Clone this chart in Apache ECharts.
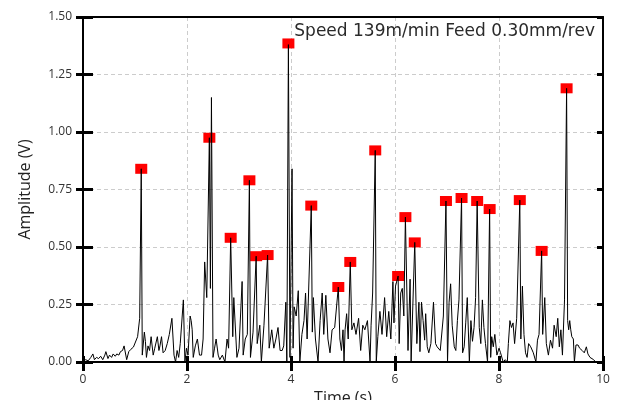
<!DOCTYPE html>
<html>
<head>
<meta charset="utf-8">
<script src="https://cdn.jsdelivr.net/npm/echarts@6/dist/echarts.min.js"></script>
<style>html,body{margin:0;padding:0;background:#fff;}#c{width:622px;height:400px;}</style>
</head>
<body>
<div id="c"></div>
<script>
// Signal samples: [time (s), amplitude (V)]
var signal = [
[0.00,0.005],[0.05,0.01],[0.10,0.005],[0.15,0.02],[0.19,0.035],[0.22,0.01],[0.26,0.02],[0.30,0.015],[0.34,0.025],[0.38,0.01],
[0.42,0.03],[0.44,0.045],[0.48,0.015],[0.51,0.03],[0.55,0.02],[0.58,0.035],[0.62,0.025],[0.65,0.035],[0.69,0.03],[0.72,0.045],
[0.76,0.05],[0.79,0.07],[0.84,0.01],[0.88,0.045],[0.92,0.055],[0.97,0.065],[1.00,0.06],[1.05,0.11],[1.09,0.19],[1.12,0.84],
[1.14,0.03],[1.18,0.13],[1.20,0.09],[1.22,0.02],[1.25,0.07],[1.28,0.05],[1.31,0.11],[1.35,0.03],[1.38,0.06],[1.43,0.11],
[1.46,0.05],[1.48,0.07],[1.51,0.11],[1.54,0.04],[1.58,0.05],[1.62,0.08],[1.66,0.12],[1.71,0.19],[1.75,0.03],[1.78,0.0],
[1.81,0.05],[1.84,0.02],[1.87,0.08],[1.93,0.27],[1.96,0.0],[1.99,0.06],[2.02,0.03],[2.06,0.2],[2.08,0.18],[2.10,0.14],
[2.12,0.02],[2.16,0.07],[2.20,0.1],[2.24,0.03],[2.28,0.03],[2.31,0.1],[2.34,0.435],[2.38,0.28],[2.43,0.975],[2.45,0.32],
[2.47,1.15],[2.50,0.02],[2.53,0.06],[2.56,0.1],[2.60,0.03],[2.63,0.01],[2.68,0.03],[2.73,0.0],[2.77,0.1],[2.80,0.06],
[2.84,0.54],[2.88,0.11],[2.90,0.28],[2.96,0.02],[3.00,0.06],[3.06,0.35],[3.08,0.03],[3.12,0.1],[3.16,0.12],[3.20,0.79],
[3.22,0.02],[3.27,0.13],[3.33,0.46],[3.35,0.08],[3.40,0.16],[3.43,0.0],[3.48,0.16],[3.55,0.465],[3.58,0.06],[3.63,0.14],
[3.67,0.06],[3.71,0.1],[3.75,0.15],[3.79,0.05],[3.83,0.05],[3.86,0.07],[3.90,0.26],[3.92,0.0],[3.95,1.38],[3.98,0.02],
[4.02,0.84],[4.04,0.06],[4.06,0.24],[4.10,0.2],[4.14,0.31],[4.17,0.0],[4.21,0.12],[4.25,0.18],[4.28,0.3],[4.31,0.1],
[4.39,0.68],[4.41,0.13],[4.43,0.28],[4.47,0.1],[4.52,0.0],[4.56,0.18],[4.60,0.3],[4.63,0.12],[4.67,0.29],[4.71,0.1],
[4.75,0.04],[4.79,0.14],[4.84,0.15],[4.91,0.326],[4.94,0.1],[4.97,0.05],[5.00,0.14],[5.02,0.0],[5.04,0.14],[5.07,0.21],
[5.10,0.1],[5.14,0.435],[5.17,0.14],[5.21,0.17],[5.25,0.12],[5.30,0.19],[5.34,0.05],[5.38,0.16],[5.42,0.14],[5.47,0.18],
[5.52,0.0],[5.54,0.16],[5.57,0.3],[5.62,0.92],[5.64,0.0],[5.67,0.11],[5.71,0.22],[5.75,0.12],[5.80,0.28],[5.84,0.11],
[5.88,0.22],[5.92,0.1],[5.96,0.35],[5.98,0.17],[6.01,0.33],[6.06,0.374],[6.08,0.08],[6.11,0.3],[6.14,0.32],[6.17,0.2],
[6.20,0.63],[6.25,0.05],[6.29,0.36],[6.31,0.0],[6.38,0.52],[6.42,0.08],[6.46,0.26],[6.48,0.045],[6.51,0.26],[6.54,0.18],
[6.57,0.095],[6.59,0.21],[6.62,0.066],[6.65,0.04],[6.69,0.08],[6.74,0.26],[6.78,0.08],[6.81,0.066],[6.84,0.06],[6.87,0.05],
[6.93,0.2],[6.98,0.7],[7.01,0.0],[7.04,0.26],[7.07,0.34],[7.10,0.16],[7.14,0.066],[7.17,0.05],[7.20,0.18],[7.23,0.27],
[7.28,0.713],[7.30,0.04],[7.33,0.066],[7.36,0.17],[7.39,0.28],[7.43,0.0],[7.46,0.18],[7.49,0.09],[7.52,0.15],[7.55,0.28],
[7.58,0.7],[7.62,0.15],[7.65,0.08],[7.68,0.27],[7.71,0.15],[7.74,0.08],[7.78,0.0],[7.82,0.665],[7.84,0.02],[7.86,0.11],
[7.89,0.066],[7.92,0.12],[7.96,0.03],[8.00,0.06],[8.03,0.04],[8.08,0.0],[8.12,0.01],[8.16,0.0],[8.18,0.08],[8.21,0.18],
[8.24,0.15],[8.27,0.17],[8.30,0.08],[8.34,0.19],[8.40,0.704],[8.42,0.1],[8.45,0.33],[8.48,0.12],[8.51,0.04],[8.54,0.02],
[8.57,0.08],[8.61,0.066],[8.66,0.04],[8.71,0.0],[8.74,0.095],[8.77,0.12],[8.82,0.483],[8.84,0.12],[8.88,0.28],[8.91,0.08],
[8.95,0.03],[8.99,0.095],[9.03,0.06],[9.06,0.16],[9.10,0.11],[9.13,0.19],[9.16,0.066],[9.19,0.14],[9.22,0.03],[9.26,0.27],
[9.30,1.19],[9.32,0.18],[9.34,0.14],[9.36,0.18],[9.38,0.14],[9.40,0.11],[9.43,0.1],[9.45,0.0],[9.48,0.074],[9.52,0.074],
[9.55,0.06],[9.60,0.05],[9.64,0.04],[9.68,0.066],[9.71,0.035],[9.75,0.02],[9.78,0.02],[9.82,0.01],[9.86,0.0]
];
// Detected peaks (red markers)
var peakTimes  = [1.12,2.43,2.84,3.20,3.33,3.55,3.95,4.39,4.91,5.14,5.62,6.06,6.20,6.38,6.98,7.28,7.58,7.82,8.40,8.82,9.30];
var peakValues = [0.84,0.975,0.54,0.79,0.46,0.465,1.385,0.68,0.326,0.435,0.92,0.374,0.63,0.52,0.70,0.713,0.70,0.665,0.704,0.483,1.19];
var xTicks = [0,2,4,6,8,10];
var yTicks = [0.00,0.25,0.50,0.75,1.00,1.25,1.50];
var annotation = 'Speed 139m/min Feed 0.30mm/rev';
var xTitle = 'Time (s)';
var yTitle = 'Amplitude (V)';

var peaks = peakTimes.map(function(t,i){return [t, peakValues[i]];});
var FONT = 'Open Sans';
var chart = echarts.init(document.getElementById('c'), null, {renderer:'canvas'});
var xMin = xTicks[0], xMax = xTicks[xTicks.length-1], xInt = xTicks[1]-xTicks[0];
var yMin = yTicks[0], yMax = yTicks[yTicks.length-1], yInt = yTicks[1]-yTicks[0];
var axisBase = {type:'value', min:yMin, max:yMax, interval:yInt};
chart.setOption({
  animation:false,
  grid:{left:83, right:19, top:17, bottom:38, containLabel:false, outerBoundsMode:'none'},
  xAxis:[
    {type:'value', min:xMin, max:xMax, interval:xInt, position:'bottom',
     name:xTitle, nameLocation:'middle', nameGap:27,
     nameTextStyle:{fontFamily:FONT, fontSize:16, color:'#222'},
     axisLine:{show:true, onZero:false, lineStyle:{color:'#000', width:2}},
     axisTick:{show:true, inside:false, length:9, lineStyle:{color:'#000', width:3}},
     axisLabel:{fontFamily:FONT, fontSize:12, color:'#333', margin:12},
     splitLine:{show:true, lineStyle:{color:'#cccccc', type:[4,3], width:1}}},
    {type:'value', min:xMin, max:xMax, interval:xInt, position:'bottom',
     axisLine:{show:false}, axisTick:{show:true, inside:true, length:6, lineStyle:{color:'#000', width:3}},
     axisLabel:{show:false}, splitLine:{show:false}},
    {type:'value', min:xMin, max:xMax, interval:xInt, position:'top',
     axisLine:{show:true, onZero:false, lineStyle:{color:'#000', width:2}}, axisTick:{show:false},
     axisLabel:{show:false}, splitLine:{show:false}}
  ],
  yAxis:[
    Object.assign({}, axisBase, {position:'left',
     name:yTitle, nameLocation:'middle', nameGap:50, nameRotate:90,
     nameTextStyle:{fontFamily:FONT, fontSize:16, color:'#222'},
     axisLine:{show:true, onZero:false, lineStyle:{color:'#000', width:2}},
     axisTick:{show:true, inside:false, length:7, lineStyle:{color:'#000', width:3}},
     axisLabel:{fontFamily:FONT, fontSize:12, color:'#333', margin:11, formatter:function(v){return v.toFixed(2);}},
     splitLine:{show:true, lineStyle:{color:'#cccccc', type:[4,3], width:1}}}),
    Object.assign({}, axisBase, {position:'left',
     axisLine:{show:false}, axisTick:{show:true, inside:true, length:10, lineStyle:{color:'#000', width:3}},
     axisLabel:{show:false}, splitLine:{show:false}}),
    Object.assign({}, axisBase, {position:'right',
     axisLine:{show:true, onZero:false, lineStyle:{color:'#000', width:2}},
     axisTick:{show:true, inside:true, length:6, lineStyle:{color:'#000', width:3}},
     axisLabel:{show:false}, splitLine:{show:false}})
  ],
  graphic:[{type:'text', right:27, top:23, z:10,
    style:{text:annotation, font:'17px "DejaVu Sans"', fill:'#2a2a2a'}}],
  series:[
    {type:'line', data:signal, xAxisIndex:0, yAxisIndex:0, showSymbol:false, symbol:'none',
     lineStyle:{color:'#000', width:1}, z:3},
    {type:'scatter', data:peaks, xAxisIndex:0, yAxisIndex:0, symbol:'rect', symbolSize:[12,10],
     itemStyle:{color:'#ff0000', opacity:1}, z:2}
  ]
});
</script>
</body>
</html>
